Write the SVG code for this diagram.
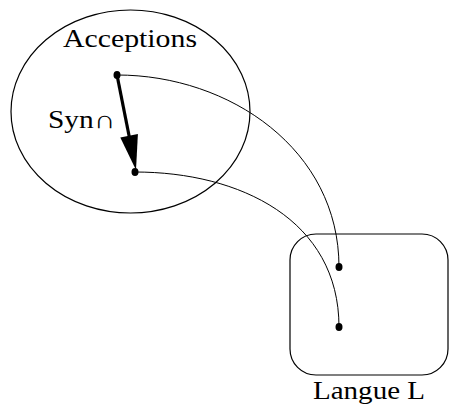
<svg xmlns="http://www.w3.org/2000/svg" width="449" height="404" viewBox="0 0 449 404">
<style>
.shape{fill:none;stroke:#000;stroke-width:1.2}
.conn{fill:none;stroke:#000;stroke-width:1}
.thick{fill:none;stroke:#000;stroke-width:3.2}
.lbl{font-family:"Liberation Serif","DejaVu Serif",serif;font-size:25px;fill:#000}
.dot{fill:#000}
</style>
<g id="acceptions">
<ellipse class="shape" cx="130.5" cy="111.5" rx="119.5" ry="101.5"/>
<text class="lbl" x="130" y="47" text-anchor="middle" textLength="134" lengthAdjust="spacingAndGlyphs">Acceptions</text>
<ellipse class="dot" cx="117" cy="75" rx="3.5" ry="4"/>
<ellipse class="dot" cx="135" cy="172" rx="3.5" ry="4"/>
</g>
<g id="langue">
<rect class="shape" x="290" y="234" width="158" height="141" rx="26" ry="26"/>
<text class="lbl" x="369" y="399" text-anchor="middle" textLength="112" lengthAdjust="spacingAndGlyphs">Langue L</text>
<ellipse class="dot" cx="339" cy="267" rx="3.5" ry="4"/>
<ellipse class="dot" cx="339" cy="327" rx="3.5" ry="4"/>
</g>
<g id="connectors">
<line class="thick" x1="117" y1="75" x2="129.5" y2="138"/>
<polygon points="136,170 137.9,133.9 120.3,137.5" fill="#000"/>
<text class="lbl" x="48" y="128" textLength="67" lengthAdjust="spacingAndGlyphs">Syn∩</text>
<path class="conn" d="M117,75 C230,75 339,150 339,267"/>
<path class="conn" d="M135,172 C240,172 339,220 339,327"/>
</g>
</svg>
